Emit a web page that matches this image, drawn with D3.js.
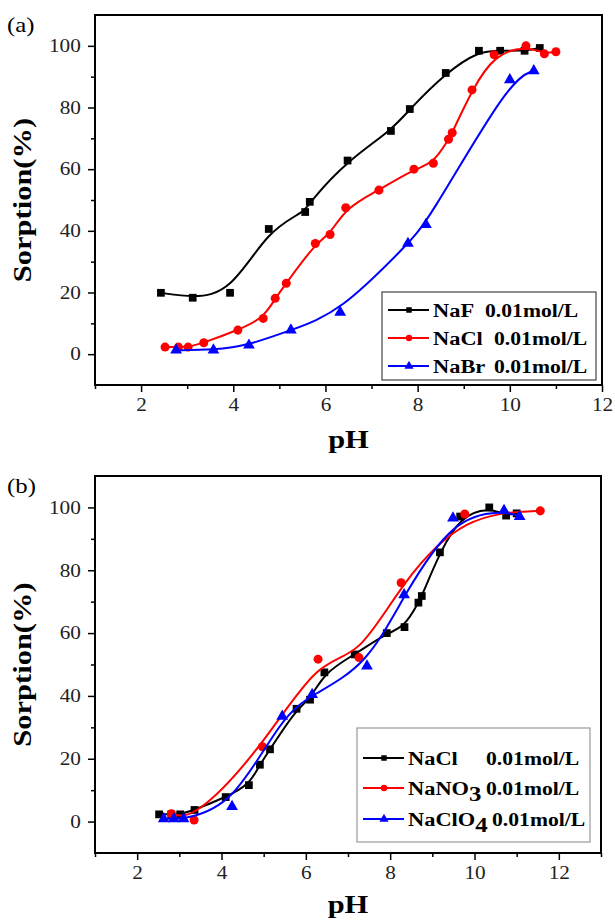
<!DOCTYPE html>
<html>
<head>
<meta charset="utf-8">
<script src="https://cdn.jsdelivr.net/npm/d3@7"></script>
<style>
  body { margin: 0; background: #fff; }
  svg { display: block; font-family: "Liberation Serif", "Times New Roman", serif; }
</style>
</head>
<body>
<svg id="chart" width="615" height="922"></svg>
<script>
// ---- data ----
// panel (a): anion effect
const nafPH   = [2.43, 3.12, 3.93, 4.77, 5.56, 5.66, 6.48, 7.42, 7.83, 8.61, 9.33, 9.79, 10.32, 10.65];
const nafSorp = [19.9, 18.3, 19.9, 40.6, 46.1, 49.4, 62.8, 72.4, 79.5, 91.2, 98.4, 98.4, 98.4, 99.3];

const naclPH   = [2.52, 2.81, 3.02, 3.36, 4.10, 4.65, 4.91, 5.15, 5.78, 6.10, 6.44, 7.16, 7.92, 8.34, 8.67, 8.75, 9.18, 9.66, 10.35, 10.75, 11.00];
const naclSorp = [2.3, 2.3, 2.3, 3.7, 7.8, 11.6, 18.1, 23.0, 35.9, 38.8, 47.5, 53.2, 60.0, 61.9, 69.7, 71.8, 85.7, 97.1, 100.0, 97.4, 98.1];

const nabrPH   = [2.76, 3.57, 4.34, 5.25, 6.32, 7.79, 8.18, 10.00, 10.52];
const nabrSorp = [1.3, 1.3, 2.9, 7.8, 13.6, 35.9, 42.0, 89.0, 91.9];

// panel (b): NaCl again plus nitrate and perchlorate
const nano3PH   = [2.81, 3.35, 4.97, 6.29, 7.26, 8.26, 9.77, 11.56];
const nano3Sorp = [2.5, 0.5, 23.8, 51.7, 52.2, 76.0, 97.9, 98.9];

const naclo4PH   = [2.63, 2.87, 3.10, 4.25, 5.44, 6.15, 7.45, 8.33, 9.49, 10.70, 11.07];
const naclo4Sorp = [0.9, 0.9, 0.9, 4.8, 33.5, 40.4, 49.5, 72.2, 96.6, 99.0, 97.1];

const xMajor = [2, 4, 6, 8, 10, 12];
const yMajor = [0, 20, 40, 60, 80, 100];
const yMinor = [10, 30, 50, 70, 90];

const zip = (xs, ys) => xs.map((x, i) => ({ph: x, s: ys[i]}));

const svg = d3.select("#chart");
const SX = 1.18; // the figure's type is set wider than Times

// text with a horizontal stretch
function stext(g, x, y, str, size, opts = {}) {
    let t = g.append("text")
        .attr("transform", `translate(${x},${y})` + (opts.rotate ? " rotate(-90)" : "") + ` scale(${opts.sx || SX},1)`)
        .attr("font-size", size)
        .attr("font-weight", opts.bold ? "bold" : "normal")
        .attr("text-anchor", opts.anchor || "start")
        .attr("fill", "#000");
    return t.text(str);
}

function drawPanel(cfg) {
    let g = svg.append("g");
    let x = d3.scaleLinear().domain(cfg.xDomain).range([cfg.left, cfg.right]);
    let y = d3.scaleLinear().domain([-10, 110]).range([cfg.bottom, cfg.top]);

    // minor ticks
    let xMinor = d3.range(cfg.xDomain[0], cfg.xDomain[1] + 1, 2);
    g.append("g").attr("transform", `translate(0,${cfg.bottom})`)
        .call(d3.axisBottom(x).tickValues(xMinor).tickSize(4).tickFormat(""))
        .call(a => a.select(".domain").remove())
        .selectAll("line").attr("stroke-width", 1.5);
    g.append("g").attr("transform", `translate(${cfg.left},0)`)
        .call(d3.axisLeft(y).tickValues(yMinor).tickSize(4).tickFormat(""))
        .call(a => a.select(".domain").remove())
        .selectAll("line").attr("stroke-width", 1.5);

    // major ticks + labels (drop d3's sans-serif so the serif from the svg applies)
    let xa = g.append("g").attr("transform", `translate(0,${cfg.bottom})`)
        .call(d3.axisBottom(x).tickValues(xMajor).tickSize(7).tickPadding(6))
        .call(a => a.select(".domain").remove())
        .attr("font-family", null).attr("font-size", null);
    xa.selectAll("line").attr("stroke-width", 1.5);
    xa.selectAll("text").attr("font-size", 18)
        .attr("fill", "#222").attr("transform", `scale(${SX},1)`);

    let ya = g.append("g").attr("transform", `translate(${cfg.left},0)`)
        .call(d3.axisLeft(y).tickValues(yMajor).tickSize(7).tickPadding(5))
        .call(a => a.select(".domain").remove())
        .attr("font-family", null).attr("font-size", null);
    ya.selectAll("line").attr("stroke-width", 1.5);
    ya.selectAll("text").attr("font-size", 18)
        .attr("fill", "#222").attr("transform", `scale(${SX},1)`);

    // frame
    g.append("rect")
        .attr("x", cfg.left).attr("y", cfg.top)
        .attr("width", cfg.right - cfg.left).attr("height", cfg.bottom - cfg.top)
        .attr("fill", "none").attr("stroke", "#000").attr("stroke-width", 2);

    // series
    let line = d3.line().x(d => x(d.ph)).y(d => y(d.s)).curve(d3.curveBasis);
    cfg.series.forEach(s => {
        let data = zip(s.ph, s.sorp);
        g.append("path").datum(data)
            .attr("d", line)
            .attr("fill", "none").attr("stroke", s.color).attr("stroke-width", 2);
        g.selectAll(null).data(data).join("path")
            .attr("transform", d => `translate(${x(d.ph)},${y(d.s)})`)
            .attr("d", d3.symbol(s.symbol, s.size))
            .attr("fill", s.color);
    });

    // labels
    stext(g, 7, cfg.top + 17, cfg.tag, 21);
    stext(g, 31, (cfg.top + cfg.bottom) / 2, "Sorption(%)", 25, {bold: true, rotate: true, anchor: "middle", sx: 1.22});
    stext(g, (cfg.left + cfg.right) / 2, cfg.phY, "pH", 25, {bold: true, anchor: "middle", sx: 1.22});

    // legend
    let L = cfg.legend;
    g.append("rect")
        .attr("x", L.x).attr("y", L.y).attr("width", L.w).attr("height", L.h)
        .attr("fill", "#fff").attr("stroke", L.stroke).attr("stroke-width", 1.2);
    cfg.series.forEach((s, i) => {
        let ry = L.rows[i];
        g.append("line")
            .attr("x1", L.x + 6).attr("x2", L.x + 47).attr("y1", ry).attr("y2", ry)
            .attr("stroke", s.color).attr("stroke-width", 2.2);
        g.append("path")
            .attr("transform", `translate(${L.x + 27},${ry})`)
            .attr("d", d3.symbol(s.symbol, s.legSize))
            .attr("fill", s.color);
        let t = stext(g, L.x + 51, ry + 6.5, "", 19, {bold: true});
        t.append("tspan").text(s.name);
        if (s.sub) t.append("tspan").attr("dy", 6).attr("font-size", 21).text(s.sub);
        stext(g, L.concX[i], ry + 6.5, "0.01mol/L", 19, {bold: true, sx: 1.14});
    });
}

drawPanel({
    tag: "(a)", top: 15, bottom: 385, left: 95, right: 602, xDomain: [1, 12], phY: 448,
    series: [
        {name: "NaF", ph: nafPH, sorp: nafSorp, color: "#000", symbol: d3.symbolSquare, size: 60, legSize: 30},
        {name: "NaCl", ph: naclPH, sorp: naclSorp, color: "#ff0000", symbol: d3.symbolCircle, size: 64, legSize: 32},
        {name: "NaBr", ph: nabrPH, sorp: nabrSorp, color: "#0000ff", symbol: d3.symbolTriangle, size: 60, legSize: 36}
    ],
    legend: {x: 382, y: 292, w: 214, h: 88, stroke: "#444", rows: [310, 338, 366], concX: [485, 494, 494]}
});

drawPanel({
    tag: "(b)", top: 476, bottom: 853, left: 95, right: 601, xDomain: [1, 13], phY: 913,
    series: [
        {name: "NaCl", ph: naclPH, sorp: naclSorp, color: "#000", symbol: d3.symbolSquare, size: 60, legSize: 30},
        {name: "NaNO", sub: "3", ph: nano3PH, sorp: nano3Sorp, color: "#ff0000", symbol: d3.symbolCircle, size: 64, legSize: 32},
        {name: "NaClO", sub: "4", ph: naclo4PH, sorp: naclo4Sorp, color: "#0000ff", symbol: d3.symbolTriangle, size: 60, legSize: 36}
    ],
    legend: {x: 357, y: 728, w: 233, h: 114, stroke: "#999", rows: [758, 788, 819], concX: [486, 486, 492]}
});
</script>
</body>
</html>
